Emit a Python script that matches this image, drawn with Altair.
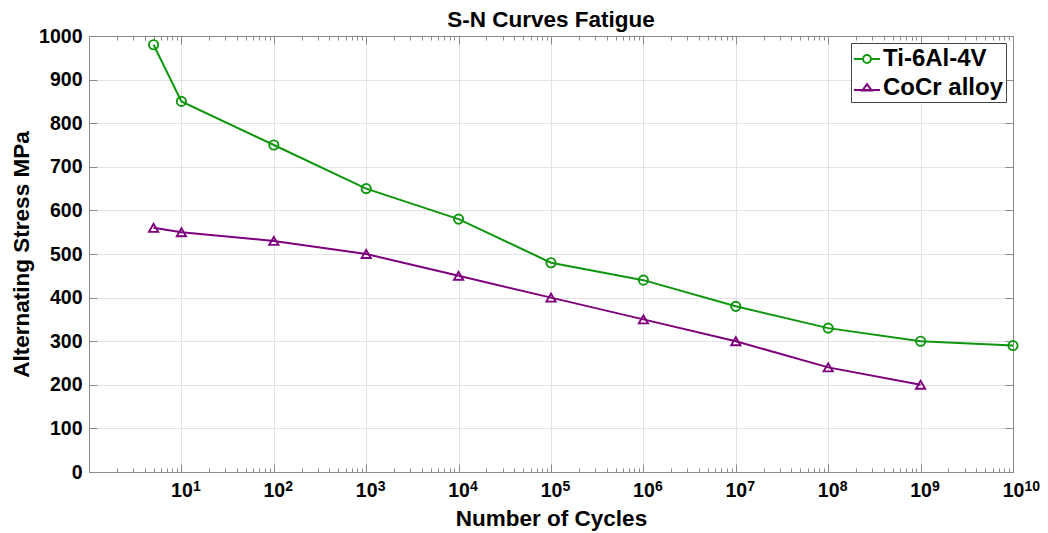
import altair as alt
import pandas as pd

# ---- data ----
cycles_ti = [5, 1e1, 1e2, 1e3, 1e4, 1e5, 1e6, 1e7, 1e8, 1e9, 1e10]
stress_ti = [980, 850, 750, 650, 580, 480, 440, 380, 330, 300, 290]
cycles_cocr = [5, 1e1, 1e2, 1e3, 1e4, 1e5, 1e6, 1e7, 1e8, 1e9]
stress_cocr = [560, 550, 530, 500, 450, 400, 350, 300, 240, 200]
series_names = ["Ti-6Al-4V", "CoCr alloy"]
series_colors = ["#0f960f", "#7d007d"]

x_major = [1e1, 1e2, 1e3, 1e4, 1e5, 1e6, 1e7, 1e8, 1e9, 1e10]
x_exponents = ["1", "2", "3", "4", "5", "6", "7", "8", "9", "10"]
x_minor = [m * 10 ** e for e in range(0, 10) for m in range(2, 10)]
y_ticks = list(range(0, 1001, 100))

df = pd.DataFrame(
    {
        "cycles": cycles_ti + cycles_cocr,
        "stress": stress_ti + stress_cocr,
        "series": [series_names[0]] * len(cycles_ti) + [series_names[1]] * len(cycles_cocr),
    }
)

W, H = 924, 436
FONT = "Liberation Sans"
GRID = "#e3e3e3"
FRAME = "#8a8a8a"
EXP_SHIFT = 11  # superscript sits just right of the "10"

xscale = alt.Scale(type="log", domain=[1, 1e10], nice=False)
xscale_exp = alt.Scale(type="log", domain=[1, 1e10], nice=False, range=[EXP_SHIFT, W + EXP_SHIFT])
yscale = alt.Scale(domain=[0, 1000], nice=False)


def color_enc(legend=None):
    return alt.Color(
        "series:N",
        scale=alt.Scale(domain=series_names, range=series_colors),
        legend=legend,
    )


exp_expr = "[" + ",".join("'%s'" % s for s in x_exponents) + "][round(log(datum.value)/LN10)-1]"

main_x = alt.X(
    "cycles:Q",
    scale=xscale,
    title="Number of Cycles",
    axis=alt.Axis(
        values=x_major,
        labelExpr="'10'",
        ticks=False,
        grid=True,
        gridColor=GRID,
        domainColor=FRAME,
        labelFont=FONT,
        labelFontSize=19.5,
        labelFontWeight="bold",
        labelColor="#000000",
        labelPadding=9,
        titleFont=FONT,
        titleFontSize=22.5,
        titleFontWeight="bold",
        titleColor="#000000",
        titlePadding=8,
        labelFlush=False,
        labelOverlap=False,
    ),
)
main_y = alt.Y(
    "stress:Q",
    scale=yscale,
    title="Alternating Stress MPa",
    axis=alt.Axis(
        values=y_ticks,
        format="d",
        ticks=False,
        grid=True,
        gridColor=GRID,
        domainColor=FRAME,
        labelFont=FONT,
        labelFontSize=19.5,
        labelFontWeight="bold",
        labelColor="#000000",
        labelPadding=7,
        titleFont=FONT,
        titleFontSize=22.5,
        titleFontWeight="bold",
        titleColor="#000000",
        titlePadding=5,
        labelFlush=False,
    ),
)

lines = alt.Chart(df).mark_line(strokeWidth=2).encode(
    x=main_x, y=main_y, color=color_enc(), detail="series:N"
)

points = alt.Chart(df).mark_point(filled=False, size=85, strokeWidth=1.9, opacity=1).encode(
    x=alt.X("cycles:Q", scale=xscale, axis=None),
    y=alt.Y("stress:Q", scale=yscale, axis=None),
    color=color_enc(),
    shape=alt.Shape(
        "series:N",
        scale=alt.Scale(domain=series_names, range=["circle", "triangle-up"]),
        legend=None,
    ),
)

# exponent labels for the powers of ten (superscripts)
exp_axis = alt.Axis(
    orient="bottom",
    values=x_major,
    labelExpr=exp_expr,
    labelAlign="left",
    ticks=False,
    grid=False,
    domain=False,
    title=None,
    labelFont=FONT,
    labelFontSize=14,
    labelFontWeight="bold",
    labelColor="#000000",
    labelPadding=7,
    labelFlush=False,
    labelOverlap=False,
)
exp_layer = alt.Chart(df).mark_point(opacity=0).encode(
    x=alt.X("cycles:Q", scale=xscale_exp, axis=exp_axis),
    y=alt.Y("stress:Q", scale=yscale, axis=None),
)


def tick_axis(orient, values, size, domain):
    return alt.Axis(
        orient=orient,
        offset=-(H if orient in ("top", "bottom") else W),
        values=values,
        labels=False,
        title=None,
        grid=False,
        ticks=True,
        tickSize=size,
        tickColor=FRAME,
        domain=domain,
        domainColor=FRAME,
    )


def tick_layer(xaxis, yaxis):
    return alt.Chart(df).mark_point(opacity=0).encode(
        x=alt.X("cycles:Q", scale=xscale, axis=xaxis),
        y=alt.Y("stress:Q", scale=yscale, axis=yaxis),
    )


# inward ticks: bottom edge (axis orient top moved down), left edge (orient right moved left)
t1 = tick_layer(tick_axis("top", x_major, 8, False), tick_axis("right", y_ticks, 8, False))
# top edge (orient bottom moved up) and right edge (orient left moved right)
t2 = tick_layer(tick_axis("bottom", x_major, 8, True), tick_axis("left", y_ticks, 8, True))
t3 = tick_layer(tick_axis("top", x_minor, 4, False), None)
t4 = tick_layer(tick_axis("bottom", x_minor, 4, False), None)

# legend layer: symbols made of a line segment plus the marker
circ_path = "M-1,0H-0.3M0.3,0H1M0.3,0A0.3,0.3 0 1,1 -0.3,0A0.3,0.3 0 1,1 0.3,0Z"
tri_path = "M-1,0.16H1M-0.36,0.2L0,-0.3L0.36,0.2Z"
legend_props = dict(
    title=None,
    orient="top-right",
    offset=7,
    labelFont=FONT,
    labelFontSize=24,
    labelFontWeight="bold",
    labelColor="#000000",
    symbolSize=676,
    symbolStrokeWidth=2,
    symbolOpacity=1,
    symbolFillColor="transparent",
    fillColor="#ffffff",
    strokeColor="#444444",
    padding=2,
    rowPadding=3,
    labelOffset=2,
)
legend_layer = alt.Chart(df).mark_point(opacity=0, filled=False).encode(
    x=alt.X("cycles:Q", scale=xscale, axis=None),
    y=alt.Y("stress:Q", scale=yscale, axis=None),
    shape=alt.Shape(
        "series:N",
        scale=alt.Scale(domain=series_names, range=[circ_path, tri_path]),
        legend=alt.Legend(**legend_props),
    ),
    color=color_enc(alt.Legend(**legend_props)),
)

chart = (
    alt.layer(lines, points, exp_layer, t1, t2, t3, t4, legend_layer)
    .resolve_axis(x="independent", y="independent")
    .resolve_scale(x="independent", shape="independent", color="independent")
    .properties(
        width=W,
        height=H,
        title=alt.TitleParams(
            "S-N Curves Fatigue",
            font=FONT,
            fontSize=22.5,
            fontWeight="bold",
            color="#000000",
            anchor="middle",
            offset=-5,
        ),
        autosize=alt.AutoSizeParams(type="none"),
        padding={"left": 89, "top": 36, "right": 35, "bottom": 61},
    )
    .configure_view(stroke=None)
    .configure(background="#ffffff")
)

chart.save("out.html", embed_options={"renderer": "svg", "actions": False})
